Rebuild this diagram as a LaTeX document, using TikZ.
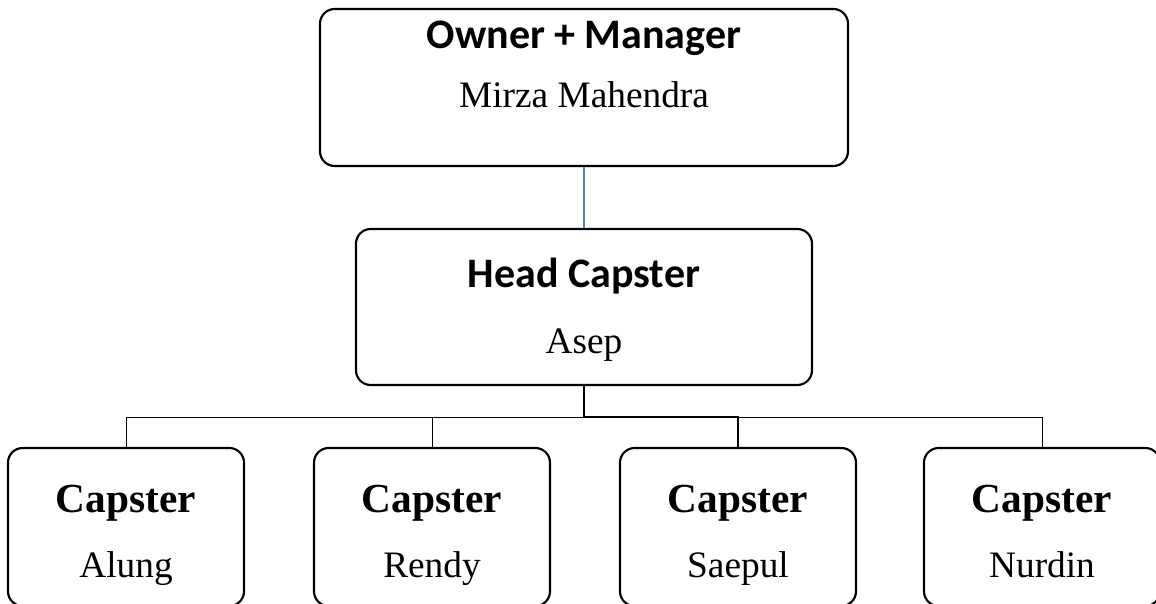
\documentclass[tikz,border=0pt]{standalone}
\usepackage{fontspec}
\setmainfont{Liberation Serif}
\newfontfamily\carlito{Carlito}
\definecolor{linkblue}{RGB}{79,129,189}
\begin{document}
\begin{tikzpicture}[x=0.75pt,y=-0.75pt,
  box/.style={draw=black, line width=1.6pt, rounded corners=11pt, inner sep=0pt},
  topbox/.style={box, minimum width=396pt, minimum height=117.75pt},
  headbox/.style={box, minimum width=342pt, minimum height=117pt},
  capbox/.style={box, minimum width=177pt, minimum height=118.5pt},
  label/.style={inner sep=0pt, anchor=base},
  titlesans/.style={label, font=\carlito\bfseries\fontsize{31.5}{34}\selectfont},
  namefont/.style={label, font=\fontsize{28}{32}\selectfont},
  captitle/.style={label, font=\bfseries\fontsize{31}{34}\selectfont},
  thin/.style={line width=0.75pt},
  thickline/.style={line width=1.9pt}]
\useasboundingbox (0,0) rectangle (1156,603);
\clip (0,0) rectangle (1156,603);

\node[topbox] (top) at (584,87.5) {};
\node[titlesans] (toptitle) at (584,48) {Owner + Manager};
\node[namefont] (topname) at (584,107) {Mirza Mahendra};

\node[headbox] (head) at (584,307) {};
\node[titlesans] (headtitle) at (584,287) {Head Capster};
\node[namefont] (headname) at (584,353) {Asep};

\node[capbox] (c1) at (126,527) {};
\node[capbox] (c2) at (432,527) {};
\node[capbox] (c3) at (738,527) {};
\node[capbox] (c4) at (1042,527) {};
\node[captitle] (c1t) at (126,512) {Capster};
\node[captitle] (c2t) at (432,512) {Capster};
\node[captitle] (c3t) at (738,512) {Capster};
\node[captitle] (c4t) at (1042,512) {Capster};
\node[namefont] (c1n) at (126,577) {Alung};
\node[namefont] (c2n) at (432,577) {Rendy};
\node[namefont] (c3n) at (738,577) {Saepul};
\node[namefont] (c4n) at (1042,577) {Nurdin};

\coordinate (bar) at (584,417);
\draw[draw=linkblue, line width=1.5pt] (top.south) -- (head.north);
\draw[thin] (c1.north) -- (c1.north |- bar) -- (c4.north |- bar) -- (c4.north);
\draw[thin] (c2.north) -- (c2.north |- bar);
\draw[thickline] (head.south) -- (bar) -| (c3.north);
\end{tikzpicture}
\end{document}
